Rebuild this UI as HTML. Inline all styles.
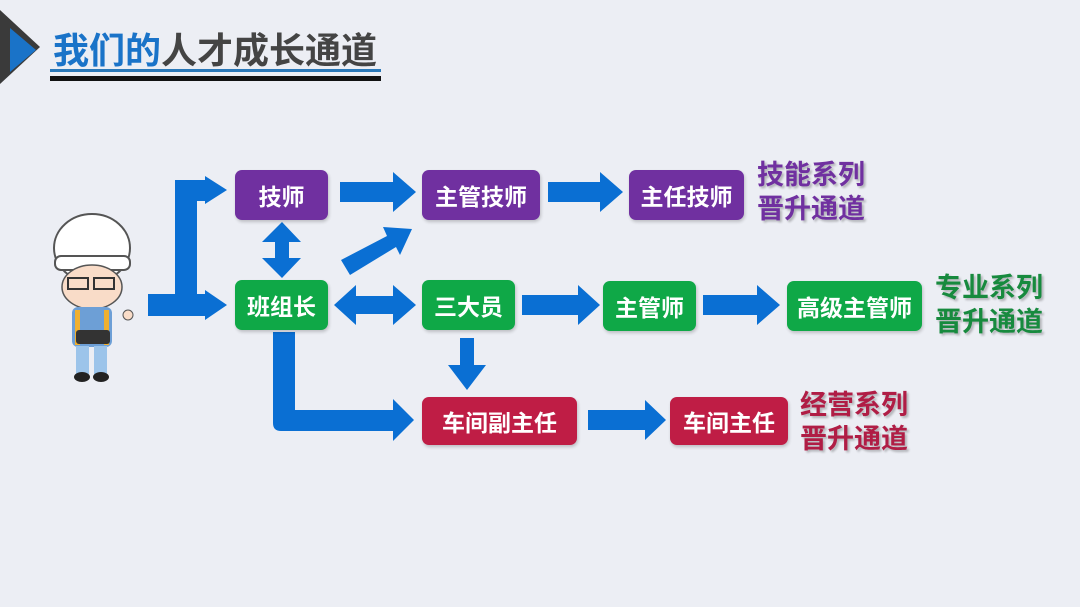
<!DOCTYPE html>
<html><head><meta charset="utf-8"><style>
body{margin:0;width:1080px;height:607px;background:#eceef4;overflow:hidden;position:relative;font-family:"Liberation Sans","Noto Sans CJK SC",sans-serif}
.b{position:absolute;color:#fff;font-weight:bold;font-size:23px;display:flex;align-items:center;justify-content:center;border-radius:7px;box-shadow:1px 2px 3px rgba(0,0,0,.2)}
.p{background:#7030a0}.g{background:#0fa847}.r{background:#bf1d45}
.l{position:absolute;font-weight:bold;font-size:27px;line-height:34px;text-shadow:2px 2px 2px rgba(0,0,0,.25)}
</style></head><body>
<svg width="1080" height="607" style="position:absolute;left:0;top:0">
<polygon points="0,10 40,47 0,84" fill="#3a3a3a"/>
<polygon points="10,28 36,50 10,72" fill="#1a73c8"/>
<rect x="50" y="69" width="331" height="3" fill="#2a78b8"/>
<rect x="50" y="76" width="331" height="5" fill="#111"/>
<g fill="#0a6fd3">
<polygon points="148,294 197,294 197,202 205,202 205,176 227,190 205,204 205,202 197,202 197,294 205,294 205,290 227,305 205,320 205,316 148,316"/>
<rect x="175" y="182" width="22" height="124"/>
<rect x="175" y="180" width="32" height="21"/>
<polygon points="340,182 393,182 393,172 416,192 393,212 393,202 340,202"/>
<polygon points="548,182 600,182 600,172 623,192 600,212 600,202 548,202"/>
<polygon points="282,222 301,242 289,242 289,258 301,258 282,278 262,258 275,258 275,242 262,242"/>
<polygon points="341,260 387,236 383,227 412,229 400,255 396,247 350,275"/>
<polygon points="334,305 356,285 356,296 393,296 393,285 416,305 393,325 393,314 356,314 356,325"/>
<polygon points="522,295 578,295 578,285 600,305 578,325 578,315 522,315"/>
<polygon points="703,295 757,295 757,285 780,305 757,325 757,315 703,315"/>
<polygon points="460,338 474,338 474,365 486,365 467,390 448,365 460,365"/>
<path d="M273,332 H295 V410 H393 V399 L414,420 L393,441 V431 H281 Q273,431 273,423 Z"/>
<polygon points="588,410 645,410 645,400 666,420 645,440 645,430 588,430"/>
</g>
<g>
<ellipse cx="92" cy="248" rx="38" ry="34" fill="#fff" stroke="#555" stroke-width="2"/>
<rect x="55" y="256" width="75" height="14" rx="6" fill="#fff" stroke="#555" stroke-width="2"/>
<ellipse cx="92" cy="287" rx="30" ry="22" fill="#f9dcc8" stroke="#555" stroke-width="1.5"/>
<rect x="68" y="278" width="20" height="11" fill="none" stroke="#333" stroke-width="2"/>
<rect x="94" y="278" width="20" height="11" fill="none" stroke="#333" stroke-width="2"/>
<rect x="72" y="307" width="40" height="40" rx="6" fill="#6d9fd6"/>
<rect x="75" y="310" width="5" height="35" fill="#f0b030"/><rect x="104" y="310" width="5" height="35" fill="#f0b030"/>
<rect x="76" y="330" width="34" height="14" rx="3" fill="#333"/>
<rect x="76" y="346" width="13" height="28" fill="#9cc4ea"/><rect x="94" y="346" width="13" height="28" fill="#9cc4ea"/>
<ellipse cx="82" cy="377" rx="8" ry="5" fill="#222"/><ellipse cx="101" cy="377" rx="8" ry="5" fill="#222"/>
<circle cx="128" cy="315" r="5" fill="#f9dcc8" stroke="#555"/>
</g>
</svg>
<div style="position:absolute;left:53px;top:22px;font-size:36px;font-weight:bold;color:#444;white-space:nowrap"><span style="color:#1a73c8">我们的</span>人才成长通道</div>
<div class="b p" style="left:235px;top:170px;width:93px;height:50px">技师</div>
<div class="b p" style="left:422px;top:170px;width:118px;height:50px">主管技师</div>
<div class="b p" style="left:629px;top:170px;width:115px;height:50px">主任技师</div>
<div class="b g" style="left:235px;top:280px;width:93px;height:50px">班组长</div>
<div class="b g" style="left:422px;top:280px;width:93px;height:50px">三大员</div>
<div class="b g" style="left:603px;top:281px;width:93px;height:50px">主管师</div>
<div class="b g" style="left:787px;top:281px;width:135px;height:50px">高级主管师</div>
<div class="b r" style="left:422px;top:397px;width:155px;height:48px">车间副主任</div>
<div class="b r" style="left:670px;top:397px;width:118px;height:48px">车间主任</div>
<div class="l" style="left:757px;top:158px;color:#7030a0">技能系列<br>晋升通道</div>
<div class="l" style="left:935px;top:271px;color:#178a3e">专业系列<br>晋升通道</div>
<div class="l" style="left:800px;top:388px;color:#b01d45">经营系列<br>晋升通道</div>
</body></html>
